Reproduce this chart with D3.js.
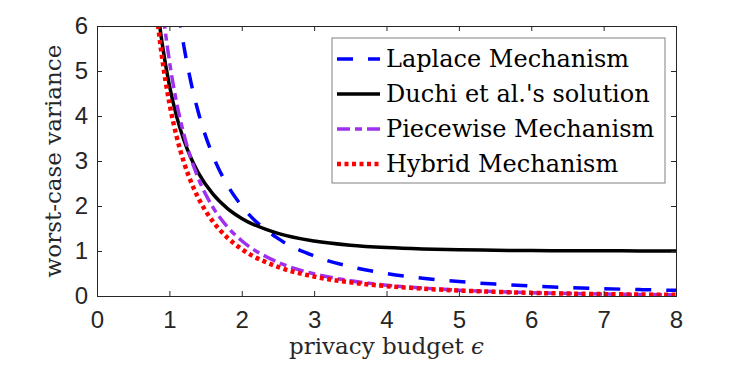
<!DOCTYPE html>
<html>
<head>
<meta charset="utf-8">
<script src="https://cdn.jsdelivr.net/npm/d3@7"></script>
<style>
  body { margin: 0; background: #fff; }
  svg { display: block; }
</style>
</head>
<body>
<div id="chart"></div>
<script>
// privacy budget values (x) and the worst-case variance of each mechanism
let epsilon = [0.8, 0.85, 0.9, 1.0, 1.1, 1.2, 1.3, 1.4, 1.6, 1.8, 2.0, 2.5, 3.0, 3.5, 4.0, 4.5, 5.0, 5.5, 6.0, 6.5, 7.0, 7.5, 8.0]
let laplace = [12.5, 11.07, 9.88, 8.0, 6.61, 5.556, 4.734, 4.082, 3.125, 2.469, 2.0, 1.28, 0.889, 0.653, 0.5, 0.395, 0.32, 0.264, 0.222, 0.189, 0.163, 0.142, 0.125]
let duchi = [6.93, 6.215, 5.618, 4.683, 3.992, 3.467, 3.06, 2.738, 2.268, 1.949, 1.724, 1.39, 1.221, 1.128, 1.076, 1.045, 1.027, 1.017, 1.01, 1.006, 1.004, 1.002, 1.001]
let piecewise = [8.22, 7.27, 6.47, 5.224, 4.298, 3.595, 3.047, 2.613, 1.976, 1.539, 1.228, 0.75, 0.493, 0.339, 0.241, 0.176, 0.13, 0.097, 0.074, 0.056, 0.043, 0.033, 0.025]
let hybrid = [6.686, 5.927, 5.29, 4.289, 3.544, 2.976, 2.532, 2.178, 1.658, 1.299, 1.042, 0.647, 0.432, 0.303, 0.219, 0.162, 0.122, 0.092, 0.07, 0.054, 0.042, 0.032, 0.025]

let seriesNames = ['Laplace Mechanism', "Duchi et al.'s solution", 'Piecewise Mechanism', 'Hybrid Mechanism']
let xTicks = [0, 1, 2, 3, 4, 5, 6, 7, 8]
let yTicks = [0, 1, 2, 3, 4, 5, 6]

let series = [
  { name: seriesNames[0], values: laplace, color: '#0000ff', dash: '16,15', width: 3.5 },
  { name: seriesNames[1], values: duchi, color: '#000000', dash: null, width: 3.5 },
  { name: seriesNames[2], values: piecewise, color: '#a030f0', dash: '13,5,7,5', width: 3.5 },
  { name: seriesNames[3], values: hybrid, color: '#ff0000', dash: '4,3.5', width: 4.5 }
]

let margin = { top: 26, left: 97, right: 71, bottom: 74 }
let width = 747 - margin.left - margin.right
let height = 370 - margin.top - margin.bottom

let svg = d3.select('#chart')
  .append('svg')
  .attr('width', 747)
  .attr('height', 370)

let g = svg.append('g')
  .attr('transform', `translate(${margin.left},${margin.top})`)

let xPositionScale = d3.scaleLinear().domain([0, 8]).range([0, width])
let yPositionScale = d3.scaleLinear().domain([0, 6]).range([height, 0])

g.append('clipPath')
  .attr('id', 'plot-clip')
  .append('rect')
  .attr('width', width)
  .attr('height', height)

let line = d3.line()
  .x(d => xPositionScale(d[0]))
  .y(d => yPositionScale(d[1]))
  .curve(d3.curveMonotoneX)

// curves
g.append('g')
  .attr('clip-path', 'url(#plot-clip)')
  .selectAll('path')
  .data(series)
  .enter()
  .append('path')
  .attr('d', d => line(d.values.map((v, i) => [epsilon[i], v])))
  .attr('fill', 'none')
  .attr('stroke', d => d.color)
  .attr('stroke-width', d => d.width)
  .attr('stroke-dasharray', d => d.dash)

// axes (ticks inside, mirrored on top/right like a boxed plot)
let tickFont = "'Liberation Sans', Arial, sans-serif"
let fmt = d3.format('d')

let xAxis = d3.axisBottom(xPositionScale).tickValues(xTicks).tickFormat(fmt).tickSize(-5).tickPadding(15)
let yAxis = d3.axisLeft(yPositionScale).tickValues(yTicks).tickFormat(fmt).tickSize(-5).tickPadding(9)

g.append('g')
  .attr('class', 'axis x-axis')
  .attr('transform', `translate(0,${height})`)
  .call(xAxis)

g.append('g')
  .attr('class', 'axis y-axis')
  .call(yAxis)

g.append('g')
  .attr('class', 'axis x-top')
  .call(d3.axisTop(xPositionScale).tickValues(xTicks).tickSize(-5).tickFormat(''))

g.append('g')
  .attr('class', 'axis y-right')
  .attr('transform', `translate(${width},0)`)
  .call(d3.axisRight(yPositionScale).tickValues(yTicks).tickSize(-5).tickFormat(''))

g.selectAll('.axis .domain').attr('stroke', '#262626').attr('stroke-width', 1)
g.selectAll('.axis line').attr('stroke', '#262626')
g.selectAll('.axis text')
  .attr('font-family', tickFont)
  .attr('font-size', 24)
  .attr('fill', '#262626')

// axis titles
let serif = "'DejaVu Serif', serif"

let xTitle = g.append('text')
  .attr('x', width / 2)
  .attr('y', height + 58)
  .attr('text-anchor', 'middle')
  .attr('font-family', serif)
  .attr('font-size', 23)
  .attr('fill', '#262626')
xTitle.append('tspan').text('privacy budget ')
xTitle.append('tspan').attr('font-style', 'italic').text('\u03f5')

g.append('text')
  .attr('transform', `translate(${-36},${height / 2}) rotate(-90)`)
  .attr('text-anchor', 'middle')
  .attr('font-family', serif)
  .attr('font-size', 23)
  .attr('fill', '#262626')
  .text('worst-case variance')

// legend
let legend = g.append('g')
  .attr('transform', `translate(${332 - margin.left},${38 - margin.top})`)

legend.append('rect')
  .attr('width', 333)
  .attr('height', 145)
  .attr('fill', '#fff')
  .attr('stroke', '#808080')
  .attr('stroke-width', 1)

let items = legend.selectAll('.legend-item')
  .data(series)
  .enter()
  .append('g')
  .attr('class', 'legend-item')
  .attr('transform', (d, i) => `translate(0,${21 + i * 35})`)

items.append('line')
  .attr('x1', 5)
  .attr('x2', 48)
  .attr('stroke', d => d.color)
  .attr('stroke-width', d => d.width)
  .attr('stroke-dasharray', d => d.dash)

items.append('text')
  .attr('x', 54)
  .attr('y', 8)
  .attr('font-family', serif)
  .attr('font-size', 24)
  .attr('fill', '#000')
  .text(d => d.name)
</script>
</body>
</html>
